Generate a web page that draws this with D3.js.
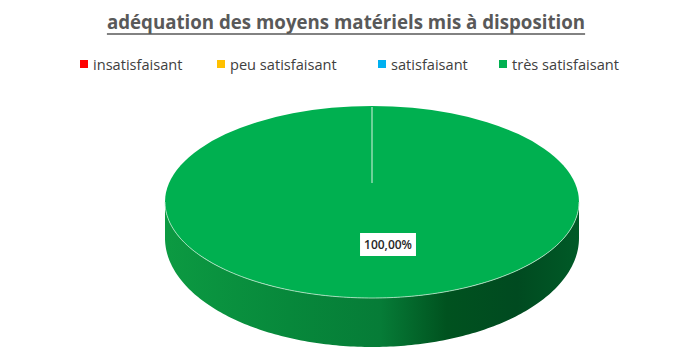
<!DOCTYPE html>
<html><head><meta charset="utf-8">
<script src="https://cdn.jsdelivr.net/npm/d3@7"></script>
<style>body{margin:0;background:#fff}svg{display:block}</style>
</head><body>
<svg id="c" width="700" height="360"></svg>
<script>
const categories = ["insatisfaisant", "peu satisfaisant", "satisfaisant", "très satisfaisant"];
const values = [0, 0, 0, 1];
const colors = ["#FF0000", "#FFC000", "#00B0F0", "#00B050"];
const labels = ["", "", "", "100,00%"];
const title = "adéquation des moyens matériels mis à disposition";

const svg = d3.select("#c");
const W = 700;

// Title
const t = svg.append("text").attr("x", W/2 - 4).attr("y", 29).attr("text-anchor","middle")
  .attr("font-family","Open Sans, sans-serif").attr("font-weight","bold").attr("font-size",18.7)
  .attr("fill","#595959").text(title);
const tb = t.node().getBBox();
svg.append("line").attr("x1",tb.x).attr("x2",tb.x+tb.width).attr("y1",34).attr("y2",34)
  .attr("stroke","#595959").attr("stroke-width",1.5);

// Legend
const legendX = [80, 217, 378, 499];
const lg = svg.append("g");
categories.forEach((c,i)=>{
  lg.append("rect").attr("x",legendX[i]).attr("y",60).attr("width",8).attr("height",8).attr("fill",colors[i]);
  lg.append("text").attr("x",legendX[i]+13).attr("y",69.5).attr("font-family","Open Sans, sans-serif")
    .attr("font-size",14.6).attr("fill","#404040").text(c);
});

// Pie geometry
const cx = 372, cy = 202, rx = 207, ry = 96, depth = 36, ryBottom = 109;
const pie = d3.pie().sort(null).value(d=>d)(values);
const arc = d3.arc().innerRadius(0).outerRadius(rx);

const defs = svg.append("defs");
const grad = defs.append("linearGradient").attr("id","side").attr("x1","0").attr("x2","1").attr("y1","0").attr("y2","0");
grad.append("stop").attr("offset","0").attr("stop-color","#0C9A42");
grad.append("stop").attr("offset","0.3").attr("stop-color","#07883B");
grad.append("stop").attr("offset","0.52").attr("stop-color","#067C37");
grad.append("stop").attr("offset","0.68").attr("stop-color","#00521F");
grad.append("stop").attr("offset","0.85").attr("stop-color","#004A20");
grad.append("stop").attr("offset","1").attr("stop-color","#005A27");

const ell = (yc, ryy) => d3.range(0, 181).map(k=>{
  const a = Math.PI * k/180;
  return [cx + rx*Math.cos(a), yc + ryy*Math.sin(a)];
});
const halfEllipse = ell(cy, ry);
// side wall (front half of the ellipse, extruded)
pie.forEach((p,i)=>{
  if (p.endAngle - p.startAngle <= 0) return;
  const bottom = ell(cy + depth, ryBottom).reverse();
  svg.append("path").attr("d", d3.line()(halfEllipse.concat(bottom)) + "Z")
    .attr("fill","url(#side)");
});

// top face
const topG = svg.append("g").attr("transform",`translate(${cx},${cy}) scale(1,${ry/rx})`);
topG.selectAll("path").data(pie.filter(p=>p.endAngle>p.startAngle)).join("path")
  .attr("d", arc).attr("fill",(d)=>colors[d.index]);
// rim highlight
svg.append("path").attr("d", d3.line()(halfEllipse))
  .attr("fill","none").attr("stroke","#BFE8CE").attr("stroke-width",0.8);
// slice edge line
svg.append("line").attr("x1",cx).attr("x2",cx).attr("y1",cy-ry+1).attr("y2",cy-19)
  .attr("stroke","#D9F2E1").attr("stroke-width",1);

// data label
const labG = svg.append("g");
pie.forEach((p,i)=>{
  if (!labels[i]) return;
  const lx = cx + 16, ly = cy + 42.5;
  const rect = labG.append("rect").attr("fill","#fff");
  const tx = labG.append("text").attr("x",lx).attr("y",ly+4.5).attr("text-anchor","middle")
    .attr("font-family","Open Sans, sans-serif").attr("font-size",12).attr("font-weight",600)
    .attr("fill","#262626").text(labels[i]);
  const b = tx.node().getBBox();
  rect.attr("x",b.x-4).attr("y",ly-11.5).attr("width",b.width+8).attr("height",23);
});
</script>
</body></html>
